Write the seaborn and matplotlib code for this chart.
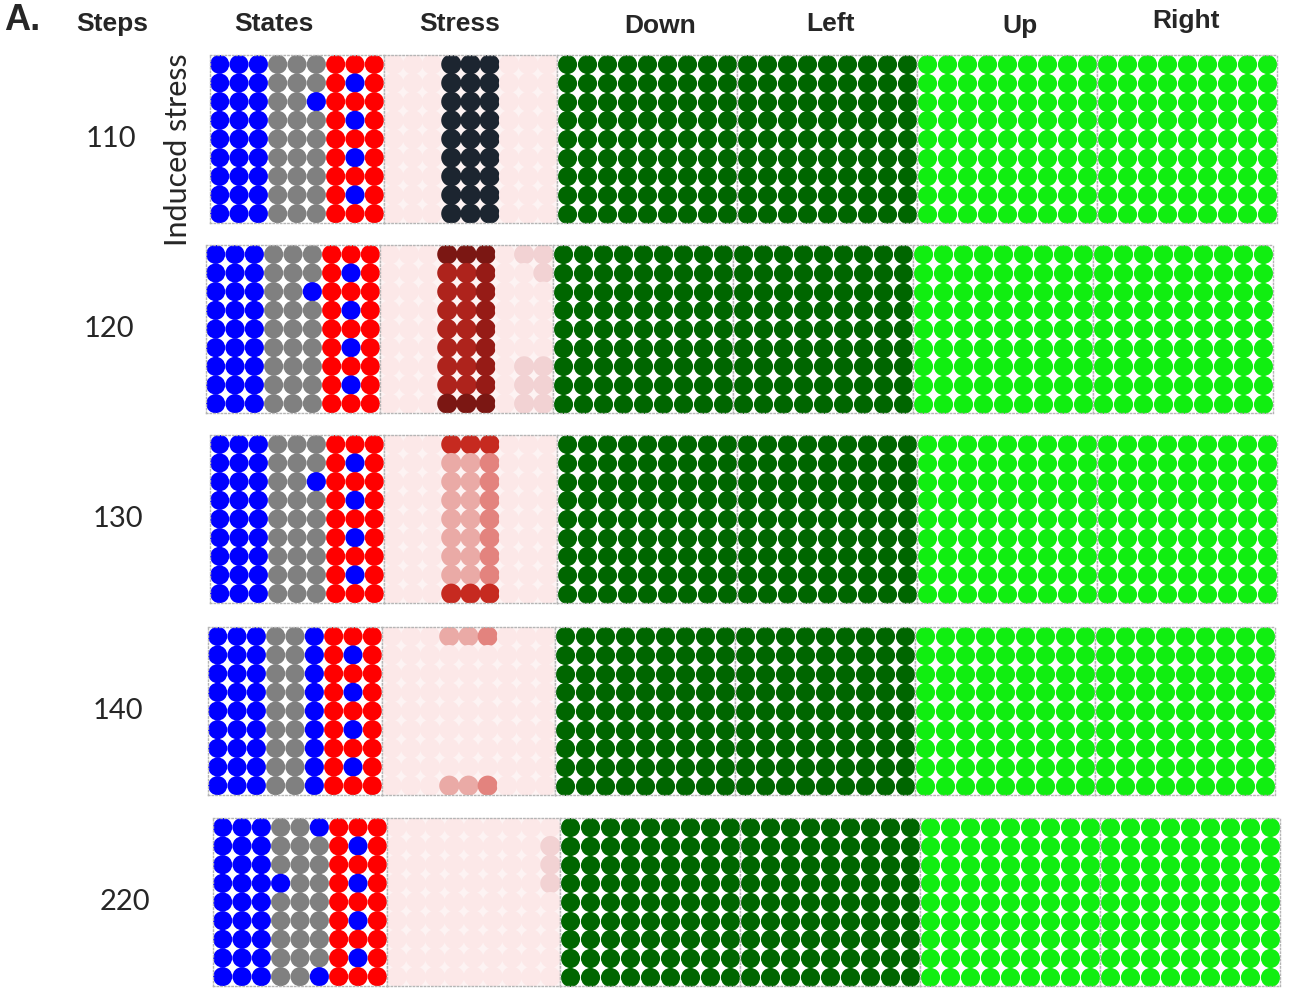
import matplotlib
matplotlib.use("Agg")
import matplotlib.pyplot as plt
from matplotlib.colors import LinearSegmentedColormap
import pandas as pd
import numpy as np
import seaborn as sns

# Data
steps = ["110", "120", "130", "140", "220"]
panels = ["States", "Stress", "Down", "Left", "Up", "Right"]

# B = blue, G = gray, R = red; one string per grid row (top -> bottom)
states_110 = ["BBBGGGRRR", "BBBGGGRBR", "BBBGGBRRR", "BBBGGGRBR", "BBBGGGRRR",
              "BBBGGGRBR", "BBBGGGRRR", "BBBGGGRBR", "BBBGGGRRR"]
states_120 = ["BBBGGGRRR", "BBBGGGRBR", "BBBGGBRRR", "BBBGGGRBR", "BBBGGGRRR",
              "BBBGGGRBR", "BBBGGGRRR", "BBBGGGRBR", "BBBGGGRRR"]
states_130 = ["BBBGGGRRR", "BBBGGGRBR", "BBBGGBRRR", "BBBGGGRBR", "BBBGGGRRR",
              "BBBGGGRBR", "BBBGGGRRR", "BBBGGGRBR", "BBBGGGRRR"]
states_140 = ["BBBGGBRRR", "BBBGGBRBR", "BBBGGBRRR", "BBBGGBRBR", "BBBGGBRRR",
              "BBBGGBRBR", "BBBGGBRRR", "BBBGGBRBR", "BBBGGBRRR"]
states_220 = ["BBBGGBRRR", "BBBGGGRBR", "BBBGGGRRR", "BBBBGGRBR", "BBBGGGRRR",
              "BBBGGGRBR", "BBBGGGRRR", "BBBGGGRBR", "BBBGGBRRR"]

# stress level per cell, 0 = none, 1 = highest
stress_110 = [[0, 0, 0, 1, 1, 1, 0, 0, 0]] * 9
stress_120 = [
    [0, 0, 0, .90, .90, .90, 0, .12, .12],
    [0, 0, 0, .80, .80, .85, 0, 0, .12],
    [0, 0, 0, .80, .80, .85, 0, 0, 0],
    [0, 0, 0, .80, .80, .85, 0, 0, 0],
    [0, 0, 0, .80, .80, .85, 0, 0, 0],
    [0, 0, 0, .80, .80, .85, 0, 0, 0],
    [0, 0, 0, .80, .80, .85, 0, .12, .12],
    [0, 0, 0, .80, .80, .85, 0, .12, .12],
    [0, 0, 0, .90, .90, .90, 0, .12, .12],
]
stress_130 = [
    [0, 0, 0, .70, .70, .70, 0, 0, 0],
    [0, 0, 0, .35, .35, .45, 0, 0, 0],
    [0, 0, 0, .35, .35, .45, 0, 0, 0],
    [0, 0, 0, .35, .35, .45, 0, 0, 0],
    [0, 0, 0, .35, .35, .45, 0, 0, 0],
    [0, 0, 0, .35, .35, .45, 0, 0, 0],
    [0, 0, 0, .35, .35, .45, 0, 0, 0],
    [0, 0, 0, .35, .35, .45, 0, 0, 0],
    [0, 0, 0, .70, .70, .70, 0, 0, 0],
]
stress_140 = [
    [0, 0, 0, .35, .35, .45, 0, 0, 0],
    [0, 0, 0, 0, 0, 0, 0, 0, 0],
    [0, 0, 0, 0, 0, 0, 0, 0, 0],
    [0, 0, 0, 0, 0, 0, 0, 0, 0],
    [0, 0, 0, 0, 0, 0, 0, 0, 0],
    [0, 0, 0, 0, 0, 0, 0, 0, 0],
    [0, 0, 0, 0, 0, 0, 0, 0, 0],
    [0, 0, 0, 0, 0, 0, 0, 0, 0],
    [0, 0, 0, .35, .35, .45, 0, 0, 0],
]
stress_220 = [
    [0, 0, 0, 0, 0, 0, 0, 0, 0],
    [0, 0, 0, 0, 0, 0, 0, 0, .12],
    [0, 0, 0, 0, 0, 0, 0, 0, .12],
    [0, 0, 0, 0, 0, 0, 0, 0, .12],
    [0, 0, 0, 0, 0, 0, 0, 0, 0],
    [0, 0, 0, 0, 0, 0, 0, 0, 0],
    [0, 0, 0, 0, 0, 0, 0, 0, 0],
    [0, 0, 0, 0, 0, 0, 0, 0, 0],
    [0, 0, 0, 0, 0, 0, 0, 0, 0],
]

# every action panel is fully on in all steps
action_on = np.ones((9, 9))

states_all = [states_110, states_120, states_130, states_140, states_220]
stress_all = [stress_110, stress_120, stress_130, stress_140, stress_220]

state_colors = {"B": "#0000ff", "G": "#808080", "R": "#ff0000"}
action_colors = {"Down": "#006600", "Left": "#006600", "Up": "#11ee11", "Right": "#11ee11"}

stress_cmap = LinearSegmentedColormap.from_list("stress", [
    (0.0, "#fce8e8"), (0.12, "#f2d2d3"), (0.35, "#eaaaa6"), (0.45, "#e3837e"),
    (0.70, "#c62a20"), (0.80, "#ae231c"), (0.85, "#961b16"), (0.90, "#7d1712"),
    (1.0, "#1c2530")])

# layout in pixels
W, H = 1289, 999
row_top = [55, 245, 435, 627, 818]
row_left = [210, 206, 210, 208, 213]
col_w = [174, 173, 180, 180, 180, 180]
panel_h = 168
S = 190

fig = plt.figure(figsize=(W / 100, H / 100), dpi=100)
sns.set_style("white")
plt.rcParams["font.family"] = ["Lato", "DejaVu Sans"]
head_font = ["Liberation Sans", "DejaVu Sans"]


def grid_frame(values, name):
    rows, cols = np.indices((9, 9))
    return pd.DataFrame({"col": cols.ravel(), "row": rows.ravel(),
                         name: np.asarray(values).ravel()})


for r in range(len(steps)):
    x0 = row_left[r]
    for c, pname in enumerate(panels):
        ax = fig.add_axes([x0 / W, 1 - (row_top[r] + panel_h) / H,
                           col_w[c] / W, panel_h / H])
        x0 += col_w[c]
        if pname == "States":
            cells = [list(s) for s in states_all[r]]
            df = grid_frame(cells, "state")
            sns.scatterplot(data=df, x="col", y="row", hue="state",
                            palette=state_colors, s=S, linewidth=0,
                            legend=False, ax=ax)
            ax.set_facecolor("white")
        elif pname == "Stress":
            df = grid_frame(stress_all[r], "stress")
            sns.scatterplot(data=df, x="col", y="row", hue="stress",
                            palette=stress_cmap, hue_norm=(0, 1), s=S + 20,
                            linewidth=0, legend=False, ax=ax)
            ax.set_facecolor("#fdf3f3")
        else:
            df = grid_frame(action_on, "on")
            sns.scatterplot(data=df, x="col", y="row", color=action_colors[pname],
                            s=S, linewidth=0, legend=False, ax=ax)
            ax.set_facecolor("white")
        ax.set_xlim(-0.5, 8.5)
        ax.set_ylim(8.5, -0.5)
        ax.set_xticks([])
        ax.set_yticks([])
        ax.set_xlabel("")
        ax.set_ylabel("")
        for sp in ax.spines.values():
            sp.set_color("#b5b5b5")
            sp.set_linestyle(":")
            sp.set_linewidth(1.0)

    # step label
    fig.text([111, 109, 118, 118, 125][r] / W,
             1 - (row_top[r] + panel_h / 2) / H, steps[r],
             ha="center", va="center", fontsize=21)

# headers
fig.text(4 / W, 1 - 21 / H, "A.", fontsize=26, fontweight="bold",
         family=head_font, va="center", ha="left")
fig.text(112 / W, 1 - 24 / H, "Steps", fontsize=19, fontweight="bold",
         family=head_font, va="center", ha="center")
header_x = [274, 460, 660, 831, 1020, 1186]
header_y = [24, 24, 26, 24, 26, 21]
for name, hx, hy in zip(panels, header_x, header_y):
    fig.text(hx / W, 1 - hy / H, name, fontsize=19, fontweight="bold",
             family=head_font, va="center", ha="center")

fig.text(178 / W, 1 - 150 / H, "Induced stress", fontsize=22, rotation=90,
         va="center", ha="center")

fig.savefig("out.png", dpi=100)
